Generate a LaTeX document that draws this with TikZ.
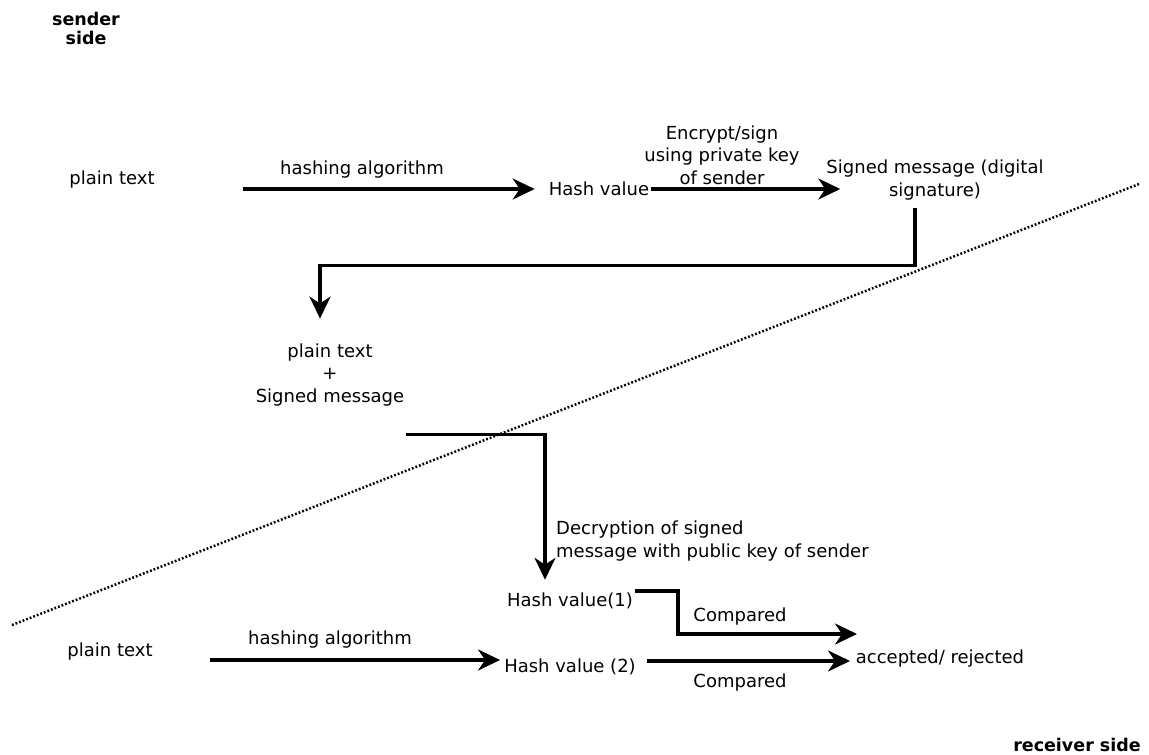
\documentclass[tikz,border=0pt]{standalone}
\usepackage{fontspec}
\setmainfont{DejaVu Sans}
\usetikzlibrary{positioning,arrows.meta,calc}

\begin{document}
\begin{tikzpicture}[x=1pt,y=-1pt,
  lbl/.style={font=\fontsize{18}{22.5}\selectfont, align=center, inner sep=2pt},
  side/.style={font=\fontsize{17.5}{19}\selectfont\bfseries, align=center, inner sep=0pt},
  arr/.style={-{Stealth[length=22pt,width=21pt,inset=7pt]}, line width=3.2pt},
  cut/.style={line width=2.5pt, dash pattern=on 1.8pt off 2pt}
]
\useasboundingbox (0,0) rectangle (1149,755);

% sides
\node[side] (snd) at (86,28) {sender\\side};
\node[side, anchor=east] (rcv) at (1141,745) {receiver side};

% sender
\node[lbl] (pt1) at (112,180) {plain text};
\node[lbl] (hv1) at (599,189) {Hash value};
\node[lbl] (sig) at (935,180) {Signed message (digital\\signature)};
\node[lbl] (cmb) at (330,375) {plain text\\+\\Signed message};

% receiver
\node[lbl] (hva) at (570,601) {Hash value(1)};
\node[lbl] (pt2) at (110,652) {plain text};
\node[lbl] (hvb) at (570,667) {Hash value (2)};
\node[lbl] (res) at (940,659) {accepted/ rejected};

% labels on the arrows
\node[lbl] (alg1) at (362,170) {hashing algorithm};
\node[lbl] (enc) at (722,155) {Encrypt/sign\\using private key\\of sender};
\node[lbl, anchor=west, align=left] (dec) at (554,541) {Decryption of signed\\message with public key of sender};
\node[lbl] (cmpa) at (740,617) {Compared};
\node[lbl] (alg2) at (330,640) {hashing algorithm};
\node[lbl] (cmpb) at (740,683) {Compared};

\coordinate (cmpin) at (857,634);
\coordinate (cmpin2) at (850,661);
\coordinate (cutL) at (12,625);
\coordinate (cutR) at (1139,184);

\draw[arr] ([xshift=86,yshift=-9]pt1.east) -- ([xshift=-12]hv1.west);
\draw[arr] (hv1.east) -- ($(sig.west |- hv1.east)+(16,0)$);
\draw[arr] ([xshift=-20,yshift=-6]sig.south) -- ++(0,57) -| ([xshift=-10,yshift=23]cmb.north);
\draw[arr] ([yshift=-26]cmb.south east) -| ([xshift=-25,yshift=11]hva.north);
\draw[arr] ([yshift=10]hva.east) -- ++(43,0) |- (cmpin);
\draw[arr] ([xshift=55,yshift=-8]pt2.east) -- ([xshift=-2,yshift=7]hvb.west);
\draw[arr] ([xshift=9,yshift=6]hvb.east) -- (cmpin2);

% boundary between sender and receiver
\draw[cut] (cutL) -- (cutR);
\end{tikzpicture}
\end{document}
